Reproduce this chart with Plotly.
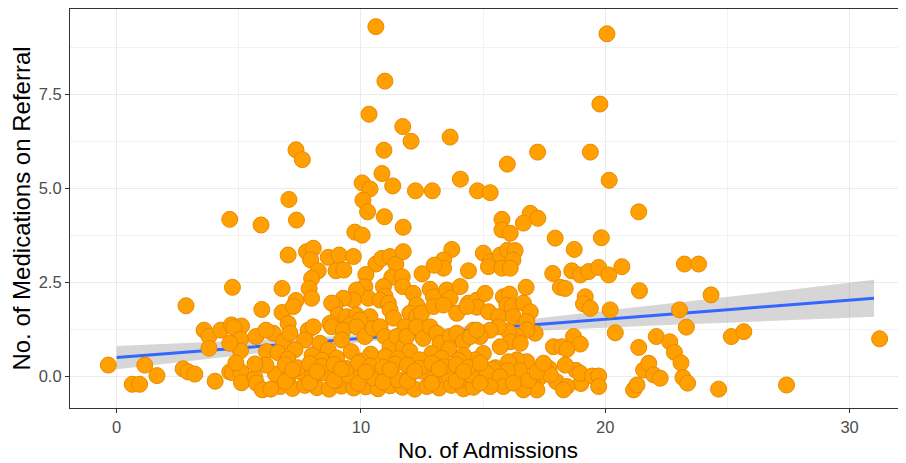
import plotly.graph_objects as go

# ---------------- data ----------------
# sparse high points
high_adm = [10.61, 10.98, 10.33, 11.71, 12.05, 13.65, 7.34, 7.60, 10.94, 10.86, 10.05, 10.37, 11.30, 12.23, 12.92,
            14.07, 14.77, 7.05, 10.08, 20.07, 19.78, 19.39, 17.23, 15.99, 20.16, 15.29, 4.63, 5.91, 7.36, 10.27,
            10.96, 11.73, 9.75, 10.05, 16.93, 17.24, 16.65, 15.77, 15.77, 16.11, 17.95, 19.84, 21.37]
high_med = [9.30, 7.85, 6.97, 6.64, 6.25, 6.36, 6.02, 5.76, 6.01, 5.39, 5.14, 4.98, 5.06, 4.93, 4.93,
            5.24, 4.93, 4.70, 4.68, 9.11, 7.24, 5.96, 5.96, 5.64, 5.21, 4.88, 4.17, 4.02, 4.15, 4.37,
            4.24, 3.96, 3.83, 3.75, 4.33, 4.20, 4.07, 4.17, 3.89, 3.80, 3.67, 3.68, 4.37]

# around three medications
b3_adm = [7.02, 7.77, 8.05, 7.94, 8.66, 9.11, 9.69, 8.98, 9.30, 8.25, 7.98, 10.61, 10.85, 11.19, 11.43,
          11.73, 11.26, 11.69, 13.72, 13.38, 13.38, 14.40, 15.01, 15.29, 15.22, 15.70, 16.00, 16.31, 16.22,
          15.77, 16.11, 17.85, 18.63, 18.98, 19.32, 19.73, 20.14, 20.68, 18.73, 23.24, 23.82, 12.50, 13.00, 10.20]
b3_med = [3.22, 3.31, 3.40, 3.09, 3.16, 3.22, 3.18, 2.80, 2.82, 2.80, 2.60, 2.98, 3.13, 3.18, 2.98,
          3.31, 2.63, 2.64, 3.37, 3.09, 2.87, 2.80, 3.27, 3.04, 2.91, 3.22, 3.35, 3.34, 3.09,
          2.87, 2.87, 2.73, 2.80, 2.69, 2.78, 2.89, 2.69, 2.91, 3.37, 2.98, 2.98, 2.72, 2.95, 2.70]

# around two medications
b2_adm = [6.77, 7.88, 7.98, 10.16, 10.30, 9.82, 9.69, 9.28, 8.93, 8.80, 10.92, 10.98, 11.71, 12.83, 12.97,
          13.51, 13.65, 14.06, 14.40, 14.74, 12.14, 12.28, 12.00, 6.77, 7.02, 7.34, 7.23, 9.07, 9.41, 9.82,
          15.08, 14.74, 15.22, 15.83, 16.08, 15.97, 16.18, 16.65, 16.93, 16.76, 18.16, 18.36, 19.18, 19.11, 19.39,
          20.20, 21.40, 2.84, 5.94, 4.74, 24.33, 23.04, 10.37, 10.78, 11.12, 11.19, 11.33, 12.28, 12.48, 12.97,
          13.38, 13.92, 14.33, 8.73, 9.55, 9.96, 15.63, 16.24, 16.79]
b2_med = [2.33, 2.33, 2.07, 2.38, 2.07, 2.29, 2.02, 2.07, 1.89, 1.94, 2.38, 2.13, 2.38, 2.31, 2.11,
          2.29, 2.07, 2.38, 1.94, 2.02, 2.20, 1.89, 1.67, 1.69, 1.40, 2.01, 1.85, 1.62, 1.58, 1.62,
          2.20, 1.83, 1.71, 2.11, 2.18, 1.89, 1.85, 1.94, 1.71, 2.36, 2.36, 2.33, 2.11, 1.92, 1.80,
          1.76, 2.27, 1.87, 1.77, 2.36, 2.16, 1.76, 1.58, 2.02, 1.94, 1.76, 1.54, 1.58, 1.67, 1.85,
          1.89, 1.67, 1.85, 1.40, 1.36, 1.49, 1.58, 1.58, 1.45]

# around one medication
b1_adm = [6.41, 6.82, 7.09, 7.84, 8.05, 7.70, 8.32, 8.66, 8.80, 9.28, 9.21, 11.80, 17.13, 16.79, 16.38,
          16.04, 15.63, 15.29, 14.88, 14.60, 16.11, 16.52, 15.70, 15.01, 14.67, 18.70, 18.98, 17.88, 18.22, 18.43,
          16.79, 16.38, 16.04, 3.58, 3.78, 3.78, 4.26, 4.70, 5.11, 4.80, 5.07, 5.07, 4.63, 5.70, 6.11,
          6.13, 21.37, 22.09, 22.64, 22.83, 23.10, 20.41, 23.32, 25.16, 25.67, 31.23, 9.82, 10.16, 10.50, 10.78,
          10.98, 11.19, 11.46, 11.73, 11.87, 12.28, 12.55, 12.83, 13.10, 13.24, 13.65, 13.92, 14.19, 14.47, 14.74,
          6.60, 7.30, 8.00, 9.60, 10.40, 11.00, 12.00, 12.90, 13.60, 14.20, 7.00, 8.40, 9.00, 10.00, 11.50,
          12.40, 13.30, 14.00]
b1_med = [1.14, 0.91, 1.14, 1.22, 1.31, 0.96, 0.87, 0.69, 1.31, 1.22, 0.96, 1.31, 1.14, 1.22, 1.05,
          1.18, 1.31, 1.22, 1.05, 1.22, 0.91, 0.87, 0.78, 0.60, 0.43, 1.05, 0.85, 0.78, 0.78, 0.71,
          0.38, 0.43, 0.38, 1.22, 1.06, 0.74, 1.22, 1.36, 1.33, 1.29, 0.98, 0.67, 0.87, 1.05, 1.22,
          0.65, 0.76, 1.05, 0.91, 0.63, 0.35, 1.15, 1.30, 1.05, 1.18, 0.99, 1.31, 1.05, 1.27, 1.31,
          1.05, 0.78, 1.05, 0.78, 1.05, 1.31, 1.00, 1.31, 1.14, 0.87, 1.05, 1.14, 0.91, 1.05, 1.22,
          0.62, 0.70, 0.55, 0.65, 0.58, 0.52, 0.66, 0.60, 0.72, 0.55, 0.45, 0.42, 0.48, 0.40, 0.46,
          0.43, 0.47, 0.41]

# around zero medications
b0a_adm = [6.7, 7.2, 7.7, 8.2, 8.7, 9.2, 9.7, 10.2, 10.7, 11.2, 11.7, 12.2, 12.7, 13.2, 13.7, 14.2, 14.6]
b0a_med = [-0.28, -0.33, -0.25, -0.31, -0.35, -0.27, -0.32, -0.29, -0.34, -0.26, -0.30, -0.35, -0.28, -0.32,
           -0.25, -0.34, -0.30]
b0b_adm = [6.5, 7.0, 7.5, 8.0, 8.5, 9.0, 9.5, 10.0, 10.5, 11.0, 11.5, 12.0, 12.5, 13.0, 13.5, 14.0, 14.5, 16.5, 17.3]
b0b_med = [0.05, -0.08, 0.12, -0.02, 0.08, -0.12, 0.02, 0.15, -0.05, 0.10, -0.10, 0.04, 0.13, -0.06, 0.09,
           -0.11, 0.03, 0.14, -0.04]
b0c_adm = [6.9, 7.4, 7.9, 8.4, 8.9, 9.4, 9.9, 10.4, 10.9, 11.4, 11.9, 12.4, 12.9, 13.4, 13.9, 14.4, 15.5, 17.7]
b0c_med = [0.30, 0.22, 0.33, 0.26, 0.31, 0.20, 0.35, 0.27, 0.24, 0.32, 0.29, 0.21, 0.34, 0.25, 0.30, 0.23, 0.22, 0.20]
b0d_adm = [6.9, 7.9, 8.9, 9.9, 10.9, 11.9, 12.9, 13.9, 15.0, 16.0, 17.0, 18.0, 19.0]
b0d_med = [-0.15, -0.18, -0.12, -0.20, -0.16, -0.14, -0.19, -0.13, -0.17, -0.12, -0.18, -0.15, -0.20]
b0e_adm = [7.2, 8.2, 9.2, 10.2, 11.2, 12.2, 13.2, 14.2, 15.4, 16.0, 18.8]
b0e_med = [0.16, 0.12, 0.18, 0.11, 0.17, 0.13, 0.19, 0.12, 0.18, 0.14, 0.15]
b0f_adm = [18.98, 19.46, 19.73, 19.73, 18.43, 18.29, 17.75, 17.20, 16.65, 16.86, 17.20, 15.15, 14.88, 15.70,
           15.83, 15.29, 14.88, 16.24, 17.47, 18.36]
b0f_med = [0.07, 0.00, 0.00, -0.28, -0.28, -0.37, 0.03, -0.37, -0.37, -0.11, 0.11, 0.07, 0.34, -0.02,
           -0.28, -0.28, -0.19, -0.19, 0.34, 0.29]
b0g_adm = [4.63, 4.74, 5.08, 5.11, 5.66, 5.72, 5.96, 6.31, 4.03, 4.88, 6.11, 5.66,
           -0.34, 1.15, 1.65, 0.64, 0.94, 2.72, 2.92, 3.20,
           21.16, 21.30, 21.57, 21.78, 21.98, 22.25, 23.18, 23.37, 24.64, 27.42]
b0g_med = [0.11, 0.09, 0.11, -0.18, -0.04, -0.19, -0.37, -0.35, -0.14, 0.35, 0.29, 0.32,
           0.29, 0.29, 0.01, -0.22, -0.22, 0.19, 0.11, 0.05,
           -0.37, -0.24, 0.16, 0.34, 0.03, -0.06, -0.04, -0.19, -0.35, -0.24]

# linear fit with 95% confidence band
fit_adm = [0, 2.5, 5, 7.5, 10, 12.5, 15, 17.5, 20, 22.5, 25, 27.5, 31]
fit_med = [0.49, 0.62, 0.745, 0.87, 1.0, 1.13, 1.255, 1.38, 1.51, 1.64, 1.765, 1.89, 2.07]
fit_lo = [0.18, 0.37, 0.55, 0.73, 0.90, 1.04, 1.14, 1.22, 1.29, 1.36, 1.42, 1.49, 1.58]
fit_hi = [0.80, 0.87, 0.94, 1.01, 1.10, 1.22, 1.37, 1.55, 1.73, 1.92, 2.11, 2.29, 2.56]

x_ticks = [0, 10, 20, 30]
y_ticks = [0, 2.5, 5.0, 7.5]
y_tick_labels = ["0.0", "2.5", "5.0", "7.5"]

# ---------------- assemble ----------------
groups = [(high_adm, high_med), (b3_adm, b3_med), (b2_adm, b2_med), (b1_adm, b1_med),
          (b0a_adm, b0a_med), (b0b_adm, b0b_med), (b0c_adm, b0c_med), (b0d_adm, b0d_med),
          (b0e_adm, b0e_med), (b0f_adm, b0f_med), (b0g_adm, b0g_med)]
adm, med = [], []
for gx, gy in groups:
    n = min(len(gx), len(gy))
    adm += gx[:n]
    med += gy[:n]

FONT = "Liberation Sans, Arial, sans-serif"

fig = go.Figure()
# confidence band
fig.add_trace(go.Scatter(x=fit_adm, y=fit_lo, mode="lines", line=dict(width=0, color="rgba(0,0,0,0)"),
                         hoverinfo="skip"))
fig.add_trace(go.Scatter(x=fit_adm, y=fit_hi, mode="lines", line=dict(width=0, color="rgba(0,0,0,0)"),
                         fill="tonexty", fillcolor="rgba(153,153,153,0.4)", hoverinfo="skip"))
fig.add_trace(go.Scatter(x=fit_adm, y=fit_med, mode="lines", line=dict(color="#3366FF", width=3)))
fig.add_trace(go.Scatter(x=adm, y=med, mode="markers",
                         marker=dict(size=16, color="#FFA000", line=dict(color="#E88A00", width=1))))

axis_common = dict(
    showgrid=True, gridcolor="#EBEBEB", gridwidth=1.2, zeroline=False,
    showline=True, linecolor="#333333", linewidth=1.2,
    ticks="outside", ticklen=4, tickcolor="#333333", tickwidth=1.1,
    tickfont=dict(family=FONT, size=16.5, color="#4D4D4D"),
)
fig.update_xaxes(**axis_common, range=[-1.91, 32.31], tickvals=x_ticks, mirror=True,
                 minor=dict(tickvals=[5, 15, 25], showgrid=True, gridcolor="#F2F2F2", gridwidth=0.7, ticks=""),
                 title=dict(text="No. of Admissions", standoff=12,
                            font=dict(family=FONT, size=22.5, color="#000000")))
fig.update_yaxes(**axis_common, range=[-0.852, 9.77], tickvals=y_ticks, ticktext=y_tick_labels,
                 minor=dict(tickvals=[1.25, 3.75, 6.25, 8.75], showgrid=True, gridcolor="#F2F2F2",
                            gridwidth=0.7, ticks=""),
                 title=dict(text="No. of Medications on Referral", standoff=5,
                            font=dict(family=FONT, size=24, color="#000000")))
fig.update_layout(width=898, height=455, margin=dict(l=62, r=0, t=1, b=55, autoexpand=False),
                  plot_bgcolor="white", paper_bgcolor="white", showlegend=False)

fig.write_html("out.html")
